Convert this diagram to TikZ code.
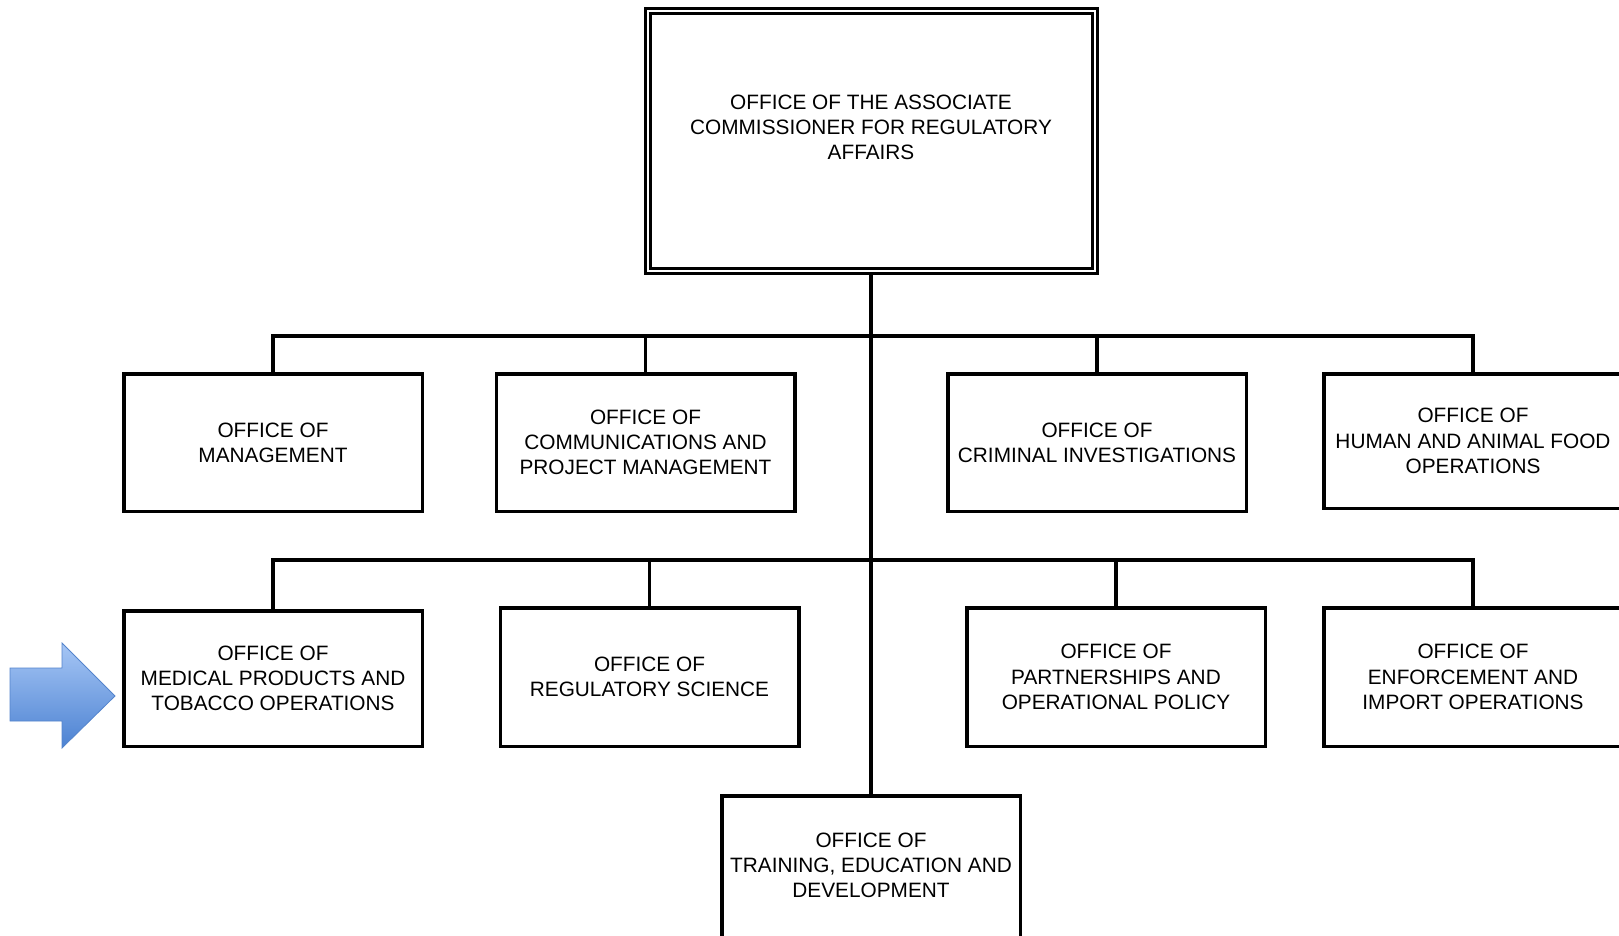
\documentclass[tikz,border=0pt]{standalone}
\usepackage{fontspec}
\setmainfont{Liberation Sans}
\newcommand\orgfont{\fontsize{20.8}{25.3}\selectfont}
\definecolor{arrowtop}{RGB}{166,198,245}
\definecolor{arrowbot}{RGB}{76,130,210}
\definecolor{arrowline}{RGB}{84,132,204}
\tikzset{
  unitbox/.style={draw=black, line width=3.5pt, fill=white, align=center,
    font=\orgfont, inner sep=0pt, minimum width=298.5pt},
  headbox/.style={draw=black, line width=3pt, double=white, double distance=2pt,
    minimum width=447pt, minimum height=260pt, inner sep=0pt, outer sep=4pt},
  link/.style={draw=black, line width=3.7pt, line join=miter},
  pointer/.style={draw=arrowline, line width=0.8pt, line join=miter,
    top color=arrowtop, bottom color=arrowbot}
}
\begin{document}
\begin{tikzpicture}[x=1pt, y=-1pt]
\useasboundingbox (0,0) rectangle (1619,935);
\clip (0,0) rectangle (1619,935);
\fill[white] (0,0) rectangle (1619,935);

% head office
\node[headbox] (head) at (871,141) {};
\node[font=\orgfont, align=center, inner sep=0pt] (headtext) at (871,127.5)
  {OFFICE OF THE ASSOCIATE\\COMMISSIONER FOR REGULATORY\\AFFAIRS};

% bus lines
\coordinate (bus1) at (871,336);
\coordinate (bus2) at (871,560);

% first row
\node[unitbox, minimum height=137.5pt] (mgmt) at (273,442.5) {OFFICE OF\\MANAGEMENT};
\node[unitbox, minimum height=137.5pt] (comms) at (645.5,442.5) {OFFICE OF\\COMMUNICATIONS AND\\PROJECT MANAGEMENT};
\node[unitbox, minimum height=137.5pt] (crim) at (1097,442.5) {OFFICE OF\\CRIMINAL INVESTIGATIONS};
\node[unitbox, minimum height=134.5pt] (food) at (1473,441) {OFFICE OF\\HUMAN AND ANIMAL FOOD\\OPERATIONS};

% second row
\node[unitbox, minimum height=135.5pt] (med) at (273,678.5) {OFFICE OF\\MEDICAL PRODUCTS AND\\TOBACCO OPERATIONS};
\node[unitbox, minimum height=138.5pt] (regsci) at (649.5,677) {OFFICE OF\\REGULATORY SCIENCE};
\node[unitbox, minimum height=138.5pt] (partner) at (1116,677) {OFFICE OF\\PARTNERSHIPS AND\\OPERATIONAL POLICY};
\node[unitbox, minimum height=138.5pt] (enforce) at (1473,677) {OFFICE OF\\ENFORCEMENT AND\\IMPORT OPERATIONS};

% bottom unit, running off the lower edge
\node[unitbox, minimum height=146pt] (train) at (871,869) {};
\node[font=\orgfont, align=center, inner sep=0pt] (traintext) at (871,865.5)
  {OFFICE OF\\TRAINING, EDUCATION AND\\DEVELOPMENT};

% connectors
\draw[link] (head.south) -- (train.north);
\draw[link] (mgmt.north) |- (bus1) -| (food.north);
\draw[link] (comms.north) -- (comms.north |- bus1);
\draw[link] (crim.north) -- (crim.north |- bus1);
\draw[link] (med.north) |- (bus2) -| (enforce.north);
\draw[link] (regsci.north) -- (regsci.north |- bus2);
\draw[link] (partner.north) -- (partner.north |- bus2);

% block arrow pointing at the medical products office
\path[pointer] (10,668) -- (62,668) -- (62,643) -- (115,696) -- (62,748)
  -- (62,721) -- (10,721) -- cycle;
\end{tikzpicture}
\end{document}
